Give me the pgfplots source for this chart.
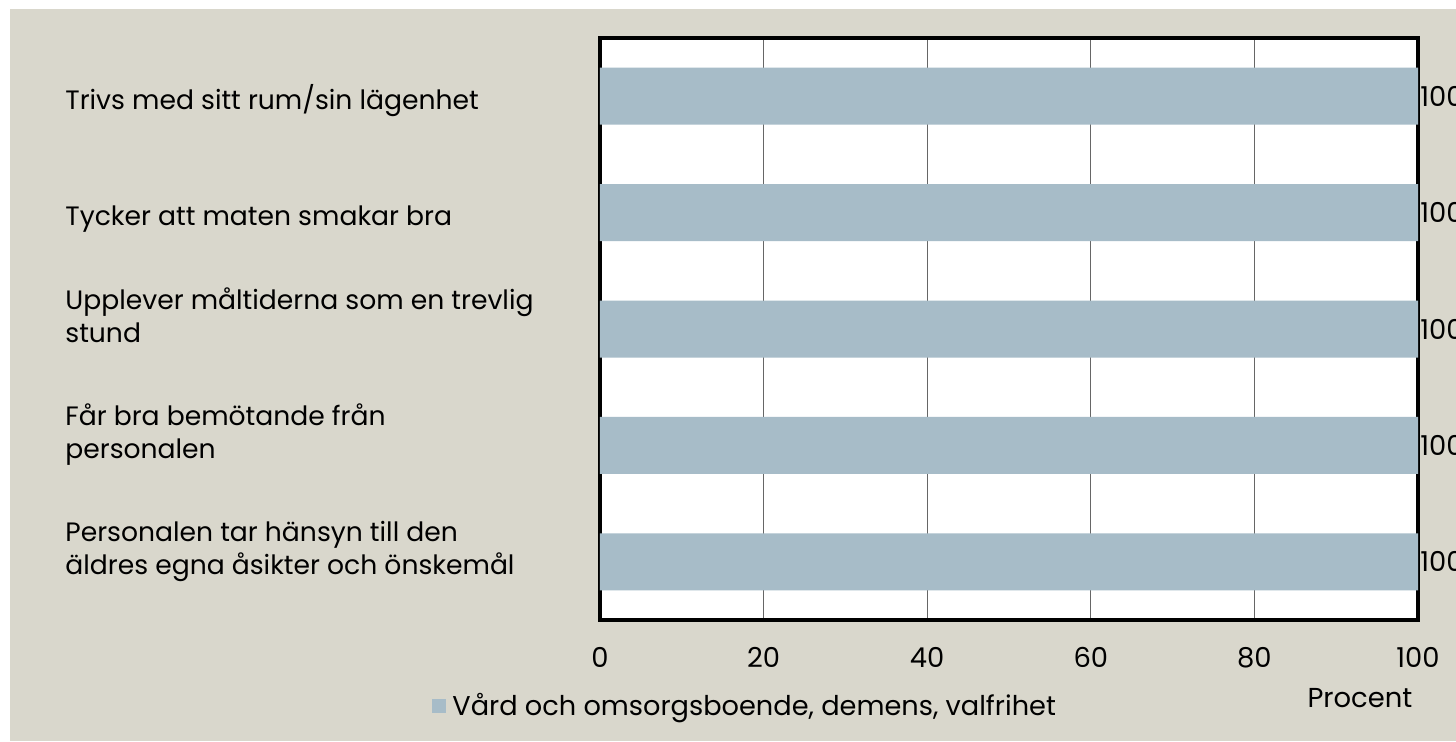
\documentclass[border=0pt]{standalone}
\usepackage{pgfplots}
\pgfplotsset{compat=1.18}
\usepackage{fontspec}
\setmainfont{Poppins}
\definecolor{bg}{HTML}{D9D7CC}
\definecolor{barc}{HTML}{A7BCC8}
\begin{document}
\begin{tikzpicture}
\fill[white] (0,0) rectangle (728pt,370.5pt);
\fill[bg] (5pt,0pt) rectangle (728pt,366pt);
\begin{axis}[
  at={(300pt,60.5pt)}, anchor=south west,
  scale only axis, width=409pt, height=291pt,
  xmin=0, xmax=100, ymin=0.5, ymax=5.5,
  xtick={0,20,40,60,80,100},
  ytick={1,2,3,4,5},
  yticklabels={{Personalen tar hänsyn till den\\äldres egna åsikter och önskemål},
               {Får bra bemötande från\\personalen},
               {Upplever måltiderna som en trevlig\\stund},
               {Tycker att maten smakar bra},
               {Trivs med sitt rum/sin lägenhet}},
  yticklabel style={anchor=base west, align=left, inner sep=0pt, xshift=-267.5pt, yshift=-6.5pt, font=\fontsize{13.3}{16.5}\selectfont},
  xticklabel style={anchor=base, inner sep=0pt, yshift=-23.5pt, font=\fontsize{13.7}{15}\selectfont},
  /pgf/number format/assume math mode=true,
  major tick length=0pt,
  xmajorgrids, grid style={gray!80!black, line width=0.5pt},
  axis line style={line width=2pt},
  axis background/.style={fill=white},
  xbar, bar width=28.5pt,
  nodes near coords, point meta=x,
  nodes near coords style={anchor=west, inner sep=0pt, xshift=1pt, font=\fontsize{13.7}{15}\selectfont},
  xlabel={Procent},
  xlabel style={at={(rel axis cs:0.929,-0.1495)}, anchor=base, inner sep=0pt, font=\fontsize{13.7}{15}\selectfont},
  legend style={at={(rel axis cs:-0.2054,-0.1478)}, anchor=west, draw=none, fill=none, inner sep=0pt, font=\fontsize{13.6}{15}\selectfont},
  legend image code/.code={\fill[barc] (0pt,-3.5pt) rectangle (7pt,3.5pt); \path (8pt,0pt);},
]
\addplot[fill=barc, draw=none] coordinates {(100,1) (100,2) (100,3) (100,4) (100,5)};
\addlegendentry{Vård och omsorgsboende, demens, valfrihet}
\end{axis}
\pgfresetboundingbox
\path (0,0) rectangle (728pt,370.5pt);
\end{tikzpicture}
\end{document}
